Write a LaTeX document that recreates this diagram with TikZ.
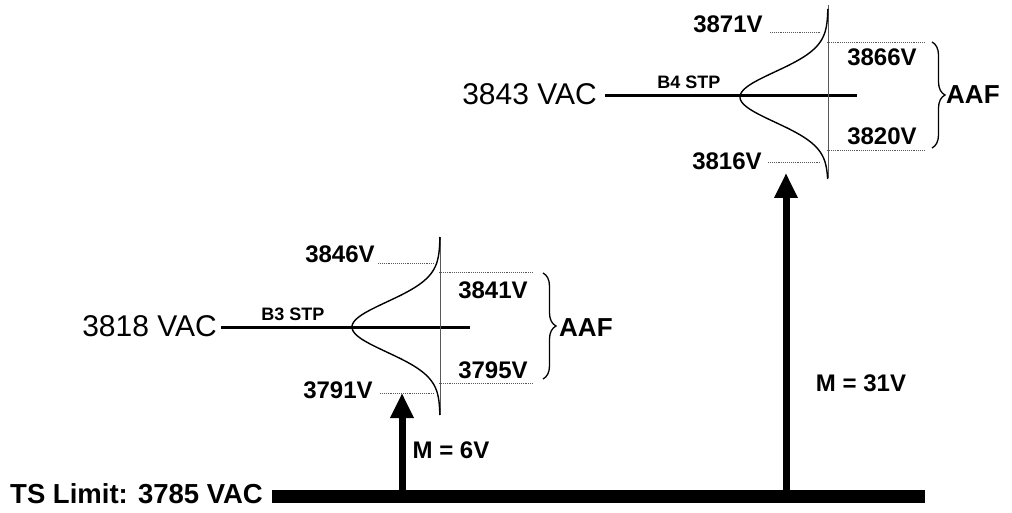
\documentclass[tikz,border=0pt]{standalone}
\usepackage{fontspec}
\setmainfont{Liberation Sans}
\usetikzlibrary{arrows.meta,decorations.pathreplacing}
\begin{document}
\begin{tikzpicture}[x=1pt,y=-1pt,
  lbl/.style={font=\bfseries\fontsize{24}{24}\selectfont, inner sep=0pt},
  vac/.style={font=\fontsize{30}{30}\selectfont, inner sep=0pt},
  stp/.style={font=\bfseries\fontsize{18}{18}\selectfont, inner sep=0pt},
  tslbl/.style={font=\bfseries\fontsize{27.5}{27.5}\selectfont, inner sep=0pt},
  aaflbl/.style={font=\bfseries\fontsize{26}{26}\selectfont, inner sep=0pt},
  guide/.style={black!65, line width=0.8pt},
  dotguide/.style={black!65, line width=0.9pt, densely dotted},
  levelline/.style={line width=3pt},
  bell/.style={line width=1.4pt},
  margin/.style={-{Triangle[width=22pt,length=25pt]}, line width=7pt},
  limitbar/.style={line width=13pt},
  aafbrace/.style={decorate, decoration={brace, amplitude=13pt}, line width=1.3pt}
]
\useasboundingbox (0,0) rectangle (1012,513);

% ---------- TS limit bar ----------
\node[tslbl, anchor=west] (ts) at (10,494) {TS Limit: 3785 VAC};
\coordinate (barL) at (272,496.5);
\coordinate (barR) at (925,496.5);
\draw[limitbar] (barL) -- (barR);

% ---------- B3 (left) ----------
\node[vac, anchor=east] (v3) at (217,326) {3818 VAC};
\coordinate (l3a) at (221,327);
\coordinate (l3b) at (470,327);
\draw[levelline] (l3a) -- (l3b);
\node[stp] (b3) at (293,314) {B3 STP};
\coordinate (g3t) at (440,237);
\coordinate (g3b) at (440,415);
\draw[guide] (g3t) -- (g3b);
\draw[bell] plot[domain=-90:88, samples=120, smooth] ({440-88*exp(-(\x*\x)/1250)}, {327+\x});
\node[lbl] (t3h) at (340,254) {3846V};
\coordinate (d3ha) at (378,263); \coordinate (d3hb) at (434,263);
\draw[dotguide] (d3ha) -- (d3hb);
\node[lbl] (t3l) at (338,390) {3791V};
\coordinate (d3la) at (380,393); \coordinate (d3lb) at (434,393);
\draw[dotguide] (d3la) -- (d3lb);
\coordinate (a3ha) at (439,272); \coordinate (a3hb) at (533,272);
\coordinate (a3la) at (439,383); \coordinate (a3lb) at (533,383);
\draw[dotguide] (a3ha) -- (a3hb);
\draw[dotguide] (a3la) -- (a3lb);
\node[lbl] (u3) at (493,290) {3841V};
\node[lbl] (w3) at (493,370) {3795V};
\coordinate (br3t) at (543,273); \coordinate (br3b) at (543,379);
\draw[aafbrace] (br3t) -- (br3b);
\node[aaflbl, anchor=west] (aaf3) at (559,328) {AAF};
\coordinate (m3s) at (402,491);
\coordinate (m3t) at (402,393);
\draw[margin] (m3s) -- (m3t);
\node[lbl] (m3) at (451,450) {M = 6V};

% ---------- B4 (right) ----------
\node[vac, anchor=east] (v4) at (597,94) {3843 VAC};
\coordinate (l4a) at (605,96);
\coordinate (l4b) at (857,96);
\draw[levelline] (l4a) -- (l4b);
\node[stp] (b4) at (689,82) {B4 STP};
\coordinate (g4t) at (828,5);
\coordinate (g4b) at (828,178);
\draw[guide] (g4t) -- (g4b);
\draw[bell] plot[domain=-88:82, samples=120, smooth] ({828-88*exp(-(\x*\x)/1250)}, {97+\x});
\node[lbl] (t4h) at (728,24) {3871V};
\coordinate (d4ha) at (770,32); \coordinate (d4hb) at (821,32);
\draw[dotguide] (d4ha) -- (d4hb);
\node[lbl] (t4l) at (727,161) {3816V};
\coordinate (d4la) at (768,162); \coordinate (d4lb) at (821,162);
\draw[dotguide] (d4la) -- (d4lb);
\coordinate (a4ha) at (827,42); \coordinate (a4hb) at (925,42);
\coordinate (a4la) at (827,150); \coordinate (a4lb) at (925,150);
\draw[dotguide] (a4ha) -- (a4hb);
\draw[dotguide] (a4la) -- (a4lb);
\node[lbl] (u4) at (882,57) {3866V};
\node[lbl] (w4) at (882,136) {3820V};
\coordinate (br4t) at (932,42); \coordinate (br4b) at (932,148);
\draw[aafbrace] (br4t) -- (br4b);
\node[aaflbl, anchor=west] (aaf4) at (946,95) {AAF};
\coordinate (m4s) at (786,490);
\coordinate (m4t) at (786,173);
\draw[margin] (m4s) -- (m4t);
\node[lbl] (m4) at (861,383) {M = 31V};
\end{tikzpicture}
\end{document}
